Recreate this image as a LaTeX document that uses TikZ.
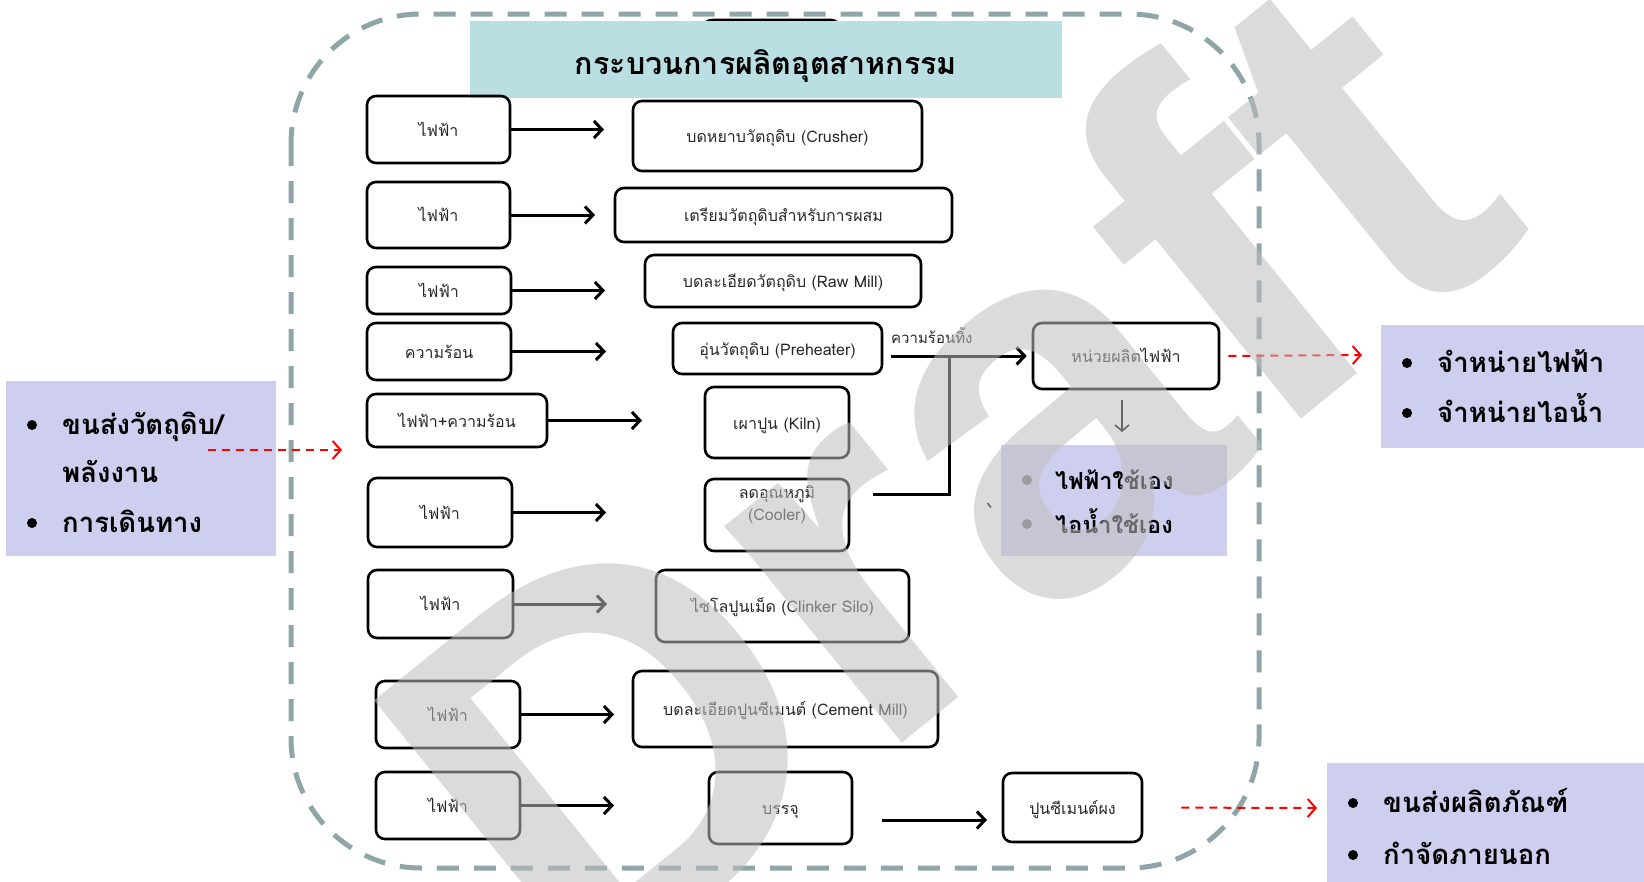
\documentclass[tikz,border=0pt]{standalone}
\usepackage{fontspec}
\setmainfont[Script=Thai]{Loma}
\newfontfamily\wmfont{Liberation Sans}
\usetikzlibrary{arrows.meta}
\definecolor{lav}{RGB}{206,206,238}
\definecolor{ttl}{RGB}{185,223,227}
\definecolor{frm}{RGB}{143,165,168}
\definecolor{txt}{RGB}{40,40,40}
\definecolor{wmgray}{RGB}{190,190,190}
\begin{document}
\begin{tikzpicture}[x=1pt,y=-1pt,
  pbox/.style={draw=black, line width=2.6pt, rounded corners=9pt, inner sep=0pt, text=txt,
    font=\fontsize{16}{22}\selectfont, align=center, text height=13pt, text depth=0pt},
  arr/.style={line width=3pt, -{Straight Barb[length=8pt,width=17pt]}},
  thin arr/.style={line width=1.6pt, -{Straight Barb[length=6pt,width=14pt]}},
  red arr/.style={red, line width=2pt, dash pattern=on 8pt off 6pt, -{Straight Barb[length=8pt,width=18pt]}},
  lavbox/.style={fill=lav, inner sep=0pt, anchor=north west},
  btxt/.style={anchor=west, inner sep=0pt, font=\bfseries\fontsize{27.5}{32}\selectfont, text height=19pt, text depth=0pt},
  mtxt/.style={btxt, font=\bfseries\fontsize{23.5}{28}\selectfont},
  bul/.style={circle, fill=black, inner sep=0pt, minimum size=10pt},
  wmk/.style={font=\wmfont\bfseries\fontsize{530}{530}\selectfont, text=wmgray, opacity=0.55, inner sep=0pt}
]
\useasboundingbox (0,0) rectangle (1644,881);
\clip (0,0) rectangle (1644,881);

% dashed frame
\draw[frm, line width=5pt, dash pattern=on 22pt off 15pt, rounded corners=130pt] (291,14) rectangle (1259,868);

% box hidden behind title
\draw[line width=2.6pt, rounded corners=9pt] (703,20) rectangle (840,60);
% title
\node[fill=ttl, minimum width=592pt, minimum height=77pt, inner sep=0pt,
  font=\bfseries\fontsize{30.5}{36}\selectfont, text height=29pt, text depth=0pt] (title) at (766,59.5) {กระบวนการผลิตอุตสาหกรรม};

% left column
\node[pbox, minimum width=143pt, minimum height=67pt] (l1) at (438.5,129.5) {ไฟฟ้า};
\node[pbox, minimum width=143pt, minimum height=66pt] (l2) at (438.5,215) {ไฟฟ้า};
\node[pbox, minimum width=144pt, minimum height=47pt] (l3) at (439,290.5) {ไฟฟ้า};
\node[pbox, minimum width=144pt, minimum height=57pt] (l4) at (439,351.5) {ความร้อน};
\node[pbox, minimum width=180pt, minimum height=53pt] (l5) at (457,420.5) {ไฟฟ้า+ความร้อน};
\node[pbox, minimum width=144pt, minimum height=69pt] (l6) at (440,512.5) {ไฟฟ้า};
\node[pbox, minimum width=145pt, minimum height=68pt] (l7) at (440.5,604) {ไฟฟ้า};
\node[pbox, minimum width=144pt, minimum height=67pt] (l8) at (448,714.5) {ไฟฟ้า};
\node[pbox, minimum width=144pt, minimum height=67pt] (l9) at (448,805.5) {ไฟฟ้า};

% right column
\node[pbox, minimum width=289pt, minimum height=70pt] (r1) at (777.5,136) {บดหยาบวัตถุดิบ (Crusher)};
\node[pbox, minimum width=337pt, minimum height=54pt] (r2) at (783.5,215) {เตรียมวัตถุดิบสำหรับการผสม};
\node[pbox, minimum width=276pt, minimum height=52pt] (r3) at (783,281) {บดละเอียดวัตถุดิบ (Raw Mill)};
\node[pbox, minimum width=209pt, minimum height=51pt] (r4) at (777.5,348.5) {อุ่นวัตถุดิบ (Preheater)};
\node[pbox, minimum width=144pt, minimum height=71pt] (r5) at (777,422.5) {เผาปูน (Kiln)};
\node[pbox, minimum width=144pt, minimum height=72pt, text height=10pt] (r6) at (777,515) {ลดอุณหภูมิ\\(Cooler)};
\node[pbox, minimum width=253pt, minimum height=72pt] (r7) at (782.5,606) {ไซโลปูนเม็ด (Clinker Silo)};
\node[pbox, minimum width=305pt, minimum height=76pt] (r8) at (785.5,709) {บดละเอียดปูนซีเมนต์ (Cement Mill)};
\node[pbox, minimum width=143pt, minimum height=72pt] (r9) at (780.5,808) {บรรจุ};
\node[pbox, minimum width=139pt, minimum height=69pt] (cp) at (1072.5,807.5) {ปูนซีเมนต์ผง};
\node[pbox, minimum width=186pt, minimum height=66pt] (hu) at (1126,356) {หน่วยผลิตไฟฟ้า};

% arrow ends
\coordinate (a1) at (604,129.5);
\coordinate (a2) at (595,215);
\coordinate (a3) at (605,290.5);
\coordinate (a4) at (606,351.5);
\coordinate (a5) at (642,420.5);
\coordinate (a6) at (606,512.5);
\coordinate (a7) at (607,604);
\coordinate (a8) at (614,714.5);
\coordinate (a9) at (614,805.5);
\draw[arr] (l1.east) -- (a1);
\draw[arr] (l2.east) -- (a2);
\draw[arr] (l3.east) -- (a3);
\draw[arr] (l4.east) -- (a4);
\draw[arr] (l5.east) -- (a5);
\draw[arr] (l6.east) -- (a6);
\draw[arr] (l7.east) -- (a7);
\draw[arr] (l8.east) -- (a8);
\draw[arr] (l9.east) -- (a9);

% packing -> cement powder
\coordinate (b1) at (882,820);
\coordinate (b2) at (987,820);
\draw[arr] (b1) -- (b2);

% waste heat
\coordinate (hs) at (891,356);
\coordinate (hj) at (949,356);
\coordinate (he) at (873,494);
\draw[arr, shorten >=5pt] (hs) -- (hu.west);
\draw[line width=3pt] (hj) |- (he);
\node[anchor=south west, inner sep=0pt, text=txt, font=\fontsize{15}{18}\selectfont] (wh) at (891,344) {ความร้อนทิ้ง};

% electricity unit down arrow
\coordinate (d1) at (1122,400);
\coordinate (d2) at (1122,432);
\draw[thin arr] (d1) -- (d2);

% small stray mark
\coordinate (m1) at (987.5,503);
\coordinate (m2) at (991,507.5);
\draw[line width=1.6pt] (m1) -- (m2);

% lavender boxes
\node[lavbox, minimum width=270pt, minimum height=175pt] (lb) at (6,381) {};
\node[lavbox, minimum width=270pt, minimum height=123pt] (rb) at (1381,325) {};
\node[lavbox, minimum width=226pt, minimum height=111pt] (mb) at (1001,445) {};
\node[lavbox, minimum width=330pt, minimum height=130pt] (bb) at (1327,763) {};

% left box texts
\node[bul] (lbu1) at (32,425) {};
\node[bul] (lbu2) at (32,523) {};
\node[btxt] (lt1) at (62,425) {ขนส่งวัตถุดิบ/};
\node[btxt] (lt2) at (62,473) {พลังงาน};
\node[btxt] (lt3) at (62,523) {การเดินทาง};

% right box texts
\node[bul] (rbu1) at (1407,363) {};
\node[bul] (rbu2) at (1407,413) {};
\node[btxt] (rt1) at (1437,363) {จำหน่ายไฟฟ้า};
\node[btxt] (rt2) at (1437,413) {จำหน่ายไอน้ำ};

% middle box texts
\node[bul, fill=black!55] (mbu1) at (1027,480) {};
\node[bul, fill=black!55] (mbu2) at (1027,524) {};
\node[mtxt] (mt1) at (1055,480) {ไฟฟ้าใช้เอง};
\node[mtxt] (mt2) at (1055,524) {ไอน้ำใช้เอง};

% bottom box texts
\node[bul] (bbu1) at (1353,803) {};
\node[bul] (bbu2) at (1353,855) {};
\node[btxt] (bt1) at (1383,803) {ขนส่งผลิตภัณฑ์};
\node[btxt] (bt2) at (1383,855) {กำจัดภายนอก};

% red dashed arrows
\coordinate (rl1) at (208,450);
\coordinate (rl2) at (342,450);
\draw[red arr] (rl1) -- (rl2);
\coordinate (rr2) at (1362,355);
\draw[red arr, shorten <=8pt] (hu.east) -- (rr2);
\coordinate (rc2) at (1317,808);
\draw[red arr, shorten <=38pt] (cp.east) -- (rc2);

% watermark
\node[wmk, rotate=39, anchor=base west] (wm) at (576,1007) {Draft};
\end{tikzpicture}
\end{document}
